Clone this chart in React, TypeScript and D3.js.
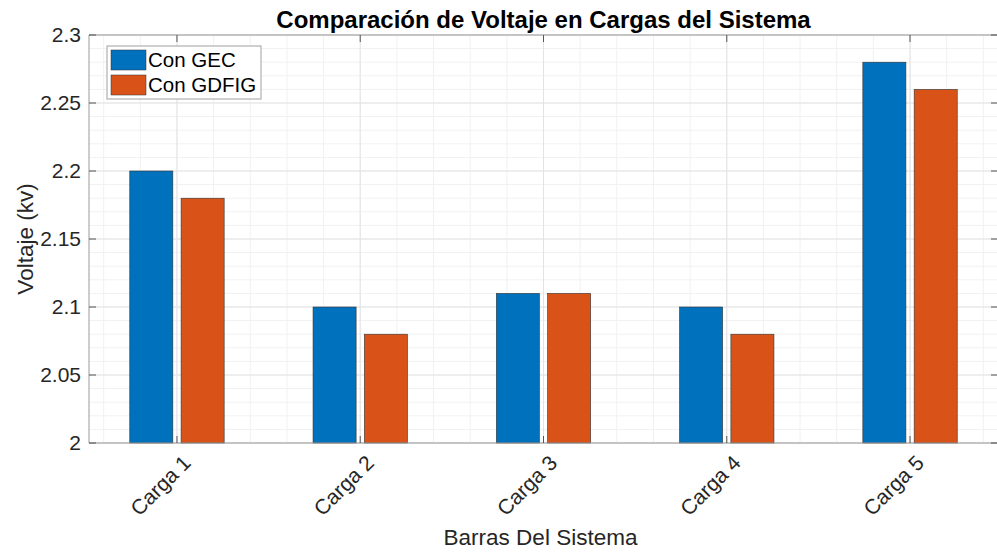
import React from "react";
import * as d3 from "d3";

const categories = ["Carga 1", "Carga 2", "Carga 3", "Carga 4", "Carga 5"];
const seriesNames = ["Con GEC", "Con GDFIG"];
const conGEC = [2.2, 2.1, 2.11, 2.1, 2.28];
const conGDFIG = [2.18, 2.08, 2.11, 2.08, 2.26];
const yTicks = [2, 2.05, 2.1, 2.15, 2.2, 2.25, 2.3];
const yTickLabels = ["2", "2.05", "2.1", "2.15", "2.2", "2.25", "2.3"];
const colors = ["#0072BD", "#D95319"];

const W = 997, H = 552;
const L = 89, R = 998, T = 35, B = 443;
const FONT = "'Liberation Sans', Arial, Helvetica, sans-serif";

export default function App() {
  const x = d3.scaleLinear().domain([0.52, 5.48]).range([L, R]);
  const y = d3.scaleLinear().domain([2, 2.3]).range([B, T]);
  const series = [conGEC, conGDFIG];
  const offsets = [-0.14, 0.14];
  const bw = 0.235;

  const minorY = d3.range(2, 2.3001, 0.01);
  const minorX = d3.range(0.6, 5.48, 0.2);

  return (
    <svg width={W} height={H} style={{ position: "absolute", left: 0, top: 0, background: "#fff" }}
      fontFamily={FONT}>
      <rect x={0} y={0} width={W} height={H} fill="#fff" />
      {minorY.map((v, i) => (
        <line key={"my" + i} x1={L} x2={R} y1={y(v)} y2={y(v)} stroke="#f1f1f1" strokeWidth={1} />
      ))}
      {minorX.map((v, i) => (
        <line key={"mx" + i} x1={x(v)} x2={x(v)} y1={T} y2={B} stroke="#f1f1f1" strokeWidth={1} />
      ))}
      {yTicks.map((v, i) => (
        <line key={"gy" + i} x1={L} x2={R} y1={y(v)} y2={y(v)} stroke="#e3e3e3" strokeWidth={1} />
      ))}
      {categories.map((c, i) => (
        <line key={"gx" + i} x1={x(i + 1)} x2={x(i + 1)} y1={T} y2={B} stroke="#e3e3e3" strokeWidth={1} />
      ))}
      {series.map((s, si) =>
        s.map((v, i) => {
          const cx = i + 1 + offsets[si];
          const x0 = x(cx - bw / 2), x1 = x(cx + bw / 2);
          return (
            <rect key={si + "-" + i} x={x0} y={y(v)} width={x1 - x0} height={y(2) - y(v)}
              fill={colors[si]} stroke="#333" strokeWidth={0.6} />
          );
        })
      )}
      <line x1={L} x2={R} y1={B} y2={B} stroke="#9a9a9a" />
      <line x1={L} x2={R} y1={T} y2={T} stroke="#9a9a9a" />
      <line x1={L} x2={L} y1={T} y2={B} stroke="#9a9a9a" />
      <line x1={R} x2={R} y1={T} y2={B} stroke="#9a9a9a" />
      {yTicks.map((v, i) => (
        <g key={"ty" + i}>
          <line x1={L} x2={L + 7} y1={y(v)} y2={y(v)} stroke="#555" />
          <line x1={R} x2={R - 7} y1={y(v)} y2={y(v)} stroke="#555" />
          <text x={L - 8} y={y(v)} dy="0.35em" textAnchor="end" fontSize={21} fill="#262626">
            {yTickLabels[i]}
          </text>
        </g>
      ))}
      {categories.map((c, i) => (
        <g key={"tx" + i}>
          <line x1={x(i + 1)} x2={x(i + 1)} y1={B} y2={B - 7} stroke="#555" />
          <line x1={x(i + 1)} x2={x(i + 1)} y1={T} y2={T + 7} stroke="#555" />
          <text transform={`translate(${x(i + 1) + 4},${B + 10}) rotate(-45)`} textAnchor="end"
            dy="0.75em" fontSize={21} fill="#262626">
            {c}
          </text>
        </g>
      ))}
      <text x={(L + R) / 2} y={28} textAnchor="middle" fontSize={24} fontWeight="bold" fill="#000">
        Comparación de Voltaje en Cargas del Sistema
      </text>
      <text x={(L + R) / 2 - 3} y={545} textAnchor="middle" fontSize={22.5} fill="#262626">
        Barras Del Sistema
      </text>
      <text transform={`translate(33,${(T + B) / 2}) rotate(-90)`} textAnchor="middle" fontSize={22.5} fill="#262626">
        Voltaje (kv)
      </text>
      <g>
        <rect x={107} y={46} width={154} height={53} fill="#fff" stroke="#a0a0a0" strokeWidth={1} />
        {seriesNames.map((n, i) => (
          <g key={"lg" + i}>
            <rect x={111} y={50 + i * 25} width={35} height={20} fill={colors[i]} stroke="#333" strokeWidth={0.5} />
            <text x={148} y={60 + i * 25} dy="0.36em" fontSize={20.5} fill="#000">{n}</text>
          </g>
        ))}
      </g>
    </svg>
  );
}
